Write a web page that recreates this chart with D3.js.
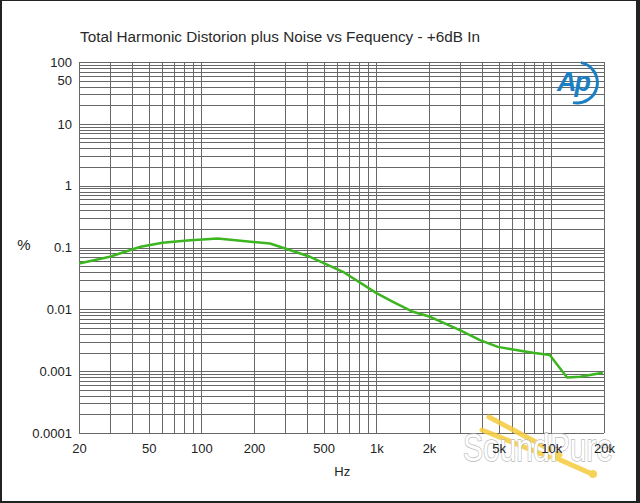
<!DOCTYPE html>
<html>
<head>
<meta charset="utf-8">
<script src="https://cdn.jsdelivr.net/npm/d3@7"></script>
<style>
  body { margin: 0; background: #fff; }
  svg { display: block; font-family: "Liberation Sans", Arial, sans-serif; }
</style>
</head>
<body>
<div class="thd-graph"></div>
<script>
"use strict";

const freqs = [20, 30, 45, 60, 83, 124, 247, 418, 645, 1008, 1245, 1620, 2030, 3000, 3910, 4950, 6040, 7850, 9800, 12300, 14600, 19700];
const thdn = [0.0553, 0.0708, 0.1026, 0.119, 0.130, 0.140, 0.116, 0.0708, 0.0405, 0.0181, 0.0132, 0.00912, 0.00757, 0.0046, 0.00318, 0.00247, 0.00224, 0.00198, 0.00182, 0.00079, 0.00081, 0.00094];

const xTicks = [20, 50, 100, 200, 500, 1000, 2000, 5000, 10000, 20000];
const xTickLabels = ["20", "50", "100", "200", "500", "1k", "2k", "5k", "10k", "20k"];
const yTicks = [100, 50, 10, 1, 0.1, 0.01, 0.001, 0.0001];
const yTickLabels = ["100", "50", "10", "1", "0.1", "0.01", "0.001", "0.0001"];

const W = 640, H = 503;
const margin = { top: 62, right: 36, bottom: 70, left: 79 };
const width = W - margin.left - margin.right;
const height = H - margin.top - margin.bottom;

const svg = d3.select(".thd-graph")
  .append("svg")
  .attr("width", W)
  .attr("height", H);

// outer frame
svg.append("rect").attr("x", 0).attr("y", 0).attr("width", W).attr("height", H).attr("fill", "#fff");
svg.append("rect").attr("x", 0).attr("y", 0).attr("width", 2).attr("height", H).attr("fill", "#222");
svg.append("rect").attr("x", 0).attr("y", 0).attr("width", W).attr("height", 1).attr("fill", "#222");
svg.append("rect").attr("x", W - 4).attr("y", 0).attr("width", 4).attr("height", H).attr("fill", "#222");
svg.append("rect").attr("x", 0).attr("y", H - 2).attr("width", W).attr("height", 2).attr("fill", "#222");

svg.append("text")
  .attr("x", 80)
  .attr("y", 42)
  .attr("font-size", "15.3px")
  .attr("fill", "#2a2a2a")
  .text("Total Harmonic Distorion plus Noise vs Fequency - +6dB In");

const g = svg.append("g").attr("transform", `translate(${margin.left},${margin.top})`);

const x = d3.scaleLog().domain([20, 20000]).range([0, width]);
const y = d3.scaleLog().domain([0.0001, 100]).range([height, 0]);

// grid
const xGrid = [];
for (let e = 1; e <= 4; e++) {
  for (let k = 1; k <= 9; k++) {
    const v = k * Math.pow(10, e);
    if (v >= 20 && v <= 20000) xGrid.push(v);
  }
}
const yGrid = [];
for (let e = -4; e <= 1; e++) {
  for (let k = 1; k <= 9; k++) yGrid.push(k * Math.pow(10, e));
}
yGrid.push(100);

g.append("g")
  .selectAll("line")
  .data(xGrid)
  .join("line")
  .attr("x1", (d) => Math.round(x(d)) + 0.5)
  .attr("x2", (d) => Math.round(x(d)) + 0.5)
  .attr("y1", 0)
  .attr("y2", height)
  .attr("stroke", "#686868")
  .attr("stroke-width", 1);

g.append("g")
  .selectAll("line")
  .data(yGrid)
  .join("line")
  .attr("x1", 0)
  .attr("x2", width)
  .attr("y1", (d) => Math.round(y(d)) + 0.5)
  .attr("y2", (d) => Math.round(y(d)) + 0.5)
  .attr("stroke", "#686868")
  .attr("stroke-width", 1);

// Ap logo
const logo = g.append("g").attr("transform", `translate(${width - 27},${y(50) + 1})`);
logo.append("path")
  .attr("d", "M 4,-19 A 20 20 0 0 1 -4,21")
  .attr("fill", "none")
  .attr("stroke", "#1b7fc4")
  .attr("stroke-width", 3);
logo.append("text")
  .attr("text-anchor", "middle")
  .attr("x", -4)
  .attr("y", 9)
  .attr("font-size", "27px")
  .attr("font-style", "italic")
  .attr("font-weight", "bold")
  .attr("letter-spacing", "-2px")
  .attr("fill", "#1b7fc4")
  .text("Ap");

// curve
const line = d3.line()
  .x((d, i) => x(freqs[i]))
  .y((d) => y(d));

g.append("path")
  .datum(thdn)
  .attr("fill", "none")
  .attr("stroke", "#3cb521")
  .attr("stroke-width", 2.5)
  .attr("stroke-linejoin", "round")
  .attr("d", line);

// SoundPure watermark (sits under the tick labels)
const wm = svg.append("g").attr("opacity", 0.85);
wm.append("line")
  .attr("x1", 489).attr("y1", 417).attr("x2", 560).attr("y2", 455)
  .attr("stroke", "#f5cc3c").attr("stroke-width", 5).attr("stroke-linecap", "round");
wm.append("line")
  .attr("x1", 482).attr("y1", 430).attr("x2", 549).attr("y2", 457)
  .attr("stroke", "#f5cc3c").attr("stroke-width", 5).attr("stroke-linecap", "round");
wm.append("line")
  .attr("x1", 556).attr("y1", 458).attr("x2", 592).attr("y2", 474)
  .attr("stroke", "#f5cc3c").attr("stroke-width", 5).attr("stroke-linecap", "round");
wm.append("circle").attr("cx", 593).attr("cy", 474).attr("r", 4).attr("fill", "#f5cc3c");
wm.append("text")
  .attr("x", 463)
  .attr("y", 461)
  .attr("textLength", 150)
  .attr("lengthAdjust", "spacingAndGlyphs")
  .attr("font-size", "38px")
  .attr("fill", "#fff")
  .attr("stroke", "#b0b0b0")
  .attr("stroke-width", 1.5)
  .attr("paint-order", "stroke")
  .text("SoundPure");

// axes labels
const labels = svg.append("g").attr("transform", `translate(${margin.left},${margin.top})`);

labels.append("g")
  .attr("transform", `translate(0,${height})`)
  .call(d3.axisBottom(x).tickValues(xTicks).tickSize(0).tickPadding(11)
    .tickFormat((d, i) => xTickLabels[i]))
  .call((a) => a.select(".domain").remove())
  .selectAll("text")
  .attr("font-size", "13px")
  .attr("font-family", "Liberation Sans, Arial, sans-serif")
  .attr("fill", "#222");

labels.append("g")
  .call(d3.axisLeft(y).tickValues(yTicks).tickSize(0).tickPadding(7)
    .tickFormat((d, i) => yTickLabels[i]))
  .call((a) => a.select(".domain").remove())
  .selectAll("text")
  .attr("font-size", "13px")
  .attr("font-family", "Liberation Sans, Arial, sans-serif")
  .attr("fill", "#222");

svg.append("text")
  .attr("x", 24)
  .attr("y", 250)
  .attr("text-anchor", "middle")
  .attr("font-size", "15px")
  .attr("fill", "#222")
  .text("%");

svg.append("text")
  .attr("x", margin.left + x(1000) - 34)
  .attr("y", 476)
  .attr("text-anchor", "middle")
  .attr("font-size", "13px")
  .attr("fill", "#222")
  .text("Hz");
</script>
</body>
</html>
